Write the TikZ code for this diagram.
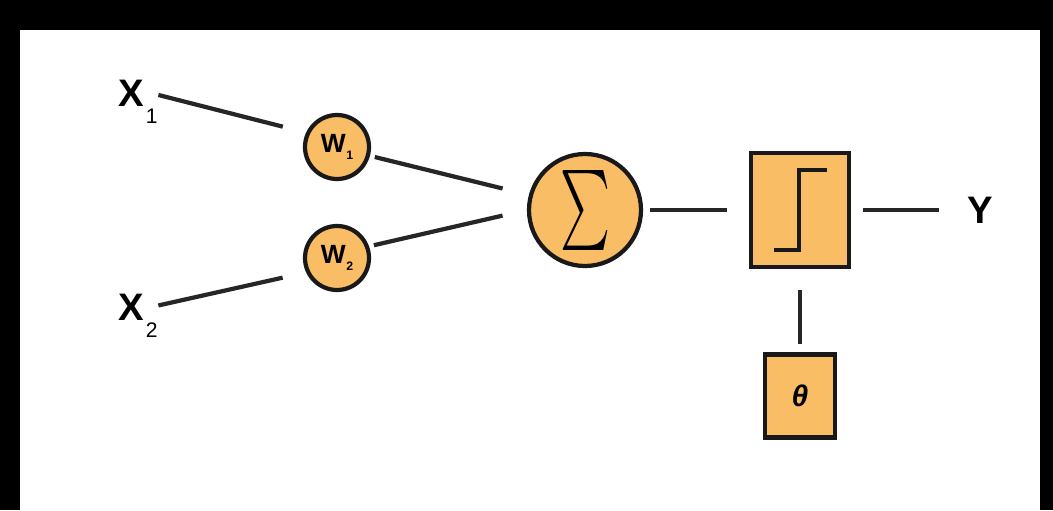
\documentclass[tikz,border=0pt]{standalone}
\usepackage{fontspec}
\setmainfont{Liberation Sans}
\definecolor{unitfill}{RGB}{249,189,102}

\begin{document}
\begin{tikzpicture}[
		wire/.style={line width=1.2pt, black!85},
		unit/.style={circle, draw=black!90, line width=1.2pt, fill=unitfill, inner sep=0pt},
		block/.style={rectangle, draw=black!90, line width=1.4pt, fill=unitfill, inner sep=0pt},
		inlabel/.style={font=\fontsize{10.9}{12}\selectfont\bfseries, inner sep=0pt}
	]
	% Frame of the picture
	\useasboundingbox (0,0) rectangle (10.53,5.10);
	\fill[black] (0,0) rectangle (10.53,5.10);
	\fill[white] (0.20,0) rectangle (10.40,4.80);
	
	% Inputs and weights
	\node[inlabel] (x1) at (1.38,4.08) {X\kern0.6pt\raisebox{-5pt}{\fontsize{6}{6}\selectfont\mdseries 1}};
	\node[inlabel] (x2) at (1.38,1.94) {X\kern0.6pt\raisebox{-5pt}{\fontsize{6}{6}\selectfont\mdseries 2}};
	\node[unit, minimum size=0.64cm, font=\fontsize{7.5}{8}\selectfont\bfseries] (w1) at (3.37,3.63) {W\kern0.2pt\raisebox{-2pt}{\fontsize{3.5}{4}\selectfont 1}};
	\node[unit, minimum size=0.64cm, font=\fontsize{7.5}{8}\selectfont\bfseries] (w2) at (3.37,2.52) {W\kern0.2pt\raisebox{-2pt}{\fontsize{3.5}{4}\selectfont 2}};
	
	% Summation, step function and threshold
	\node[unit, minimum size=1.12cm] (sum) at (5.85,3.00) {\resizebox*{0.50cm}{0.80cm}{$\sum$}};
	\node[block, minimum width=0.98cm, minimum height=1.14cm] (step) at (8.00,3.00) {};
	\draw[line width=1.4pt, black!90] ([shift={(-0.26,-0.40)}]step.center) -- ++(0.25,0) -- ++(0,0.80) -- ++(0.28,0);
	\node[block, minimum width=0.70cm, minimum height=0.83cm, font=\fontsize{8.5}{9}\selectfont\bfseries\itshape] (theta) at (8.00,1.14) {θ};
	
	% Output
	\node[inlabel] (y) at (9.80,3.00) {Y};
	
	% Connections
	\draw[wire, shorten >=0.24cm] ([yshift=2pt]x1.east) -- (w1.155);
	\draw[wire, shorten >=0.24cm] ([yshift=3pt]x2.east) -- (w2.205);
	\draw[wire, shorten <=0.05cm, shorten >=0.27cm] (w1.-15) -- (sum.165);
	\draw[wire, shorten <=0.05cm, shorten >=0.25cm] (w2.20) -- (sum.180);
	\draw[wire, shorten <=0.07cm, shorten >=0.22cm] (sum) -- (step);
	\draw[wire, shorten <=0.12cm, shorten >=0.28cm] (step) -- (y);
	\draw[wire, shorten <=0.08cm, shorten >=0.21cm] (theta) -- (step);
\end{tikzpicture}
\end{document}
